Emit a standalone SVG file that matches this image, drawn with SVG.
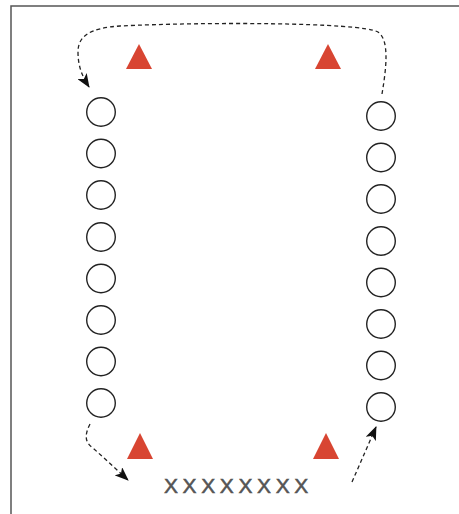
<svg xmlns="http://www.w3.org/2000/svg" width="459" height="514" viewBox="0 0 459 514">
<defs>
<style>
.frame{fill:none;stroke:#555;stroke-width:1.5}
.pos circle{fill:#fff;stroke:#222;stroke-width:1.4}
.cone{fill:#d84532}
.conn{fill:none;stroke:#222;stroke-width:1.3;stroke-dasharray:4 3}
.lbl{font-family:"Liberation Sans",Arial,sans-serif;font-size:21px;fill:#555;stroke:#555;stroke-width:0.5;letter-spacing:4.6px}
</style>
<marker id="arr" viewBox="0 0 14 11" refX="13" refY="5.5" markerWidth="14" markerHeight="11" markerUnits="userSpaceOnUse" orient="auto">
<path d="M0,0 L14,5.5 L0,11 L3.5,5.5 Z" fill="#111"/>
</marker>
</defs>
<rect width="459" height="514" fill="#fff"/>
<path class="frame" d="M11,514 V6 H459"/>
<g id="left-column" class="pos">
<circle cx="101" cy="112" r="14.3"/>
<circle cx="101" cy="153.5" r="14.3"/>
<circle cx="101" cy="195" r="14.3"/>
<circle cx="101" cy="237" r="14.3"/>
<circle cx="101" cy="278.5" r="14.3"/>
<circle cx="101" cy="320" r="14.3"/>
<circle cx="101" cy="361.5" r="14.3"/>
<circle cx="101" cy="403" r="14.3"/>
</g>
<g id="right-column" class="pos">
<circle cx="381" cy="116" r="14.3"/>
<circle cx="381" cy="157.5" r="14.3"/>
<circle cx="381" cy="199" r="14.3"/>
<circle cx="381" cy="241" r="14.3"/>
<circle cx="381" cy="282.5" r="14.3"/>
<circle cx="381" cy="324" r="14.3"/>
<circle cx="381" cy="365.5" r="14.3"/>
<circle cx="381" cy="407" r="14.3"/>
</g>
<g id="cone-top-left"><polygon class="cone" points="139,44 152,69 126,69"/></g>
<g id="cone-top-right"><polygon class="cone" points="328,44 341,69 315,69"/></g>
<g id="cone-bottom-left"><polygon class="cone" points="140,433 153,459 127,459"/></g>
<g id="cone-bottom-right"><polygon class="cone" points="326,433 339,459 313,459"/></g>
<g id="label"><text class="lbl" x="164" y="493">XXXXXXXX</text></g>
<g id="connectors">
<path class="conn" marker-end="url(#arr)" d="M382,94 C386,70 390,40 378,32 C360,22 200,22 120,26 C90,28 78,36 78,52 C78,66 82,76 89,87"/>
<path class="conn" marker-end="url(#arr)" d="M90,424 C85,434 84,442 93,448 L128,480"/>
<path class="conn" marker-end="url(#arr)" d="M352,482 L376,427"/>
</g>
</svg>
